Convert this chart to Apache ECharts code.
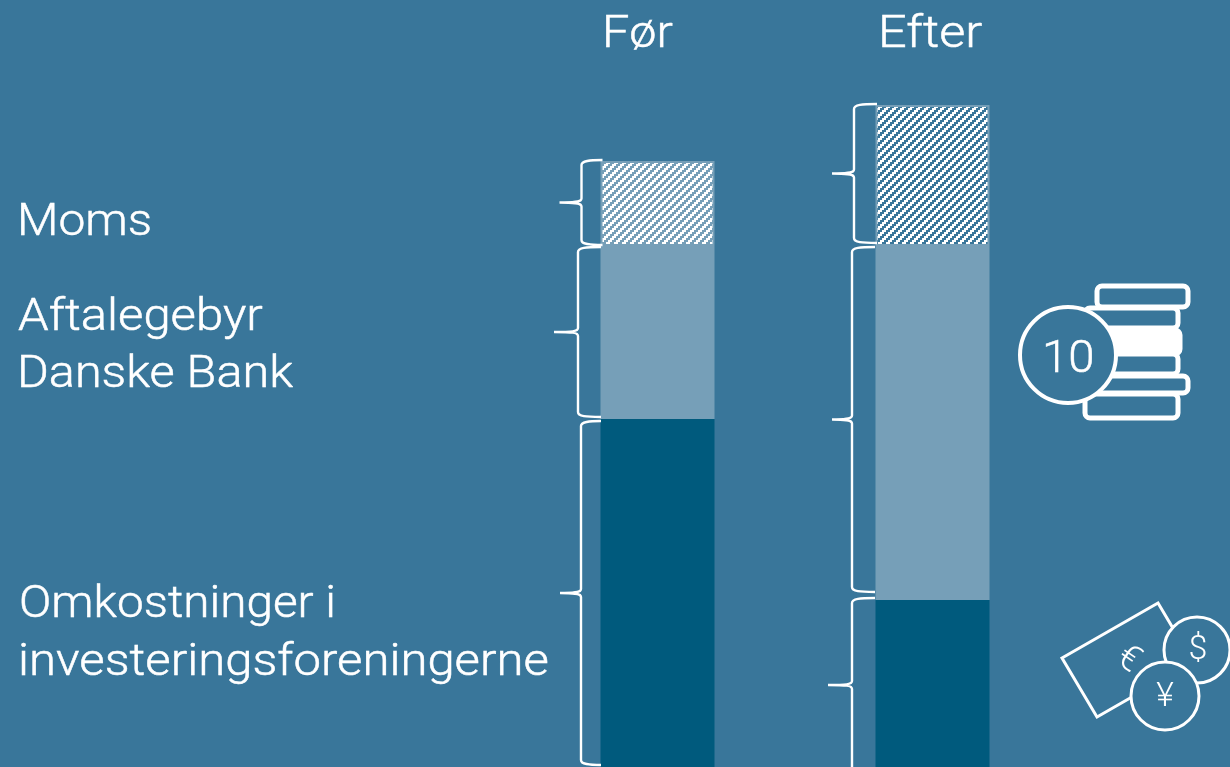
<!DOCTYPE html>
<html>
<head>
<meta charset="utf-8">
<style>html,body{margin:0;padding:0;background:#39769a}#c{width:1230px;height:767px}</style>
<script src="https://cdn.jsdelivr.net/npm/echarts@6/dist/echarts.min.js"></script>
</head>
<body>
<div id="c"></div>
<script>
const categories = ['Før', 'Efter'];
const omkostninger = [348, 167];
const aftalegebyr = [173, 354];
const moms = [85, 141];
const bracketRanges = [
  [0, 607, 522], [0, 520, 350], [0, 346, 2],
  [1, 663, 524], [1, 520, 175], [1, 169, -5]
];
const leftLabels = [
  ['Moms'],
  ['Aftalegebyr', 'Danske Bank'],
  ['Omkostninger i', 'investeringsforeningerne']
];

const BG = '#39769a', DARK = '#005a7d', MID = '#769fb8', WHITE = '#ffffff';
const FONT = 'Roboto';
const bracketOffsets = [
  [-76, -98, -55], [-79.5, -103.5, -56.5], [-76.5, -97.5, -56.5],
  [-78.5, -100.5, -55.5], [-80.5, -100.5, -57.5], [-80.5, -104.5, -57.5]
];

function hatch(cell, steps, ink, gap) {
  const size = cell * steps;
  const cv = document.createElement('canvas');
  cv.width = cv.height = size;
  const g = cv.getContext('2d');
  for (let y = 0; y < size; y++) for (let x = 0; x < size; x++) {
    const k = (Math.floor(x / cell) + Math.floor(y / cell)) % steps;
    g.fillStyle = k < ink ? WHITE : gap;
    g.fillRect(x, y, 1, 1);
  }
  return cv;
}
const hatchColors = [
  { image: hatch(2, 4, 2, MID), repeat: 'repeat' },
  { image: hatch(2, 4, 2, BG), repeat: 'repeat' }
];

function bracketPath(api) {
  const i = api.value(3);
  const [so, to, eo] = bracketOffsets[i];
  const c = api.coord([api.value(0), api.value(1)]);
  const d = api.coord([api.value(0), api.value(2)]);
  const cx = c[0], y0 = c[1], y1 = d[1], ym = (y0 + y1) / 2;
  const s = cx + so, t = cx + to, e = cx + eo;
  const path =
    `M${e} ${y0} C${s + 8} ${y0} ${s} ${y0 + 0.5} ${s} ${y0 + 5} ` +
    `L${s} ${ym - 4} C${s} ${ym - 0.5} ${s - 6} ${ym} ${t} ${ym} ` +
    `C${s - 6} ${ym} ${s} ${ym + 0.5} ${s} ${ym + 4} ` +
    `L${s} ${y1 - 5} C${s} ${y1 - 0.5} ${s + 8} ${y1} ${e} ${y1}`;
  return { type: 'path', shape: { pathData: path },
    style: { fill: null, stroke: WHITE, lineWidth: 2.4 } };
}

const txt = (text, x, baseline, fontSize, scaleX) => ({
  type: 'text', x, y: baseline - fontSize * 0.756, scaleX: scaleX || 1, silent: true,
  style: { text, fill: WHITE, stroke: WHITE, lineWidth: 0.5, font: `300 ${fontSize}px ${FONT}`, verticalAlign: 'top' }
});
const sym = (text, x, y, fontSize, rotation) => ({
  type: 'text', x, y, rotation: rotation || 0, silent: true,
  style: { text, fill: WHITE, font: `300 ${fontSize}px ${FONT}`, align: 'center', verticalAlign: 'middle' }
});
const coinBar = (x0, x1, y0, y1, filled) => ({
  type: 'rect', shape: { x: x0, y: y0, width: x1 - x0, height: y1 - y0, r: 5 },
  style: { fill: filled ? WHITE : BG, stroke: WHITE, lineWidth: 5 }
});
const circle = (cx, cy, r, lw) => ({
  type: 'circle', shape: { cx, cy, r }, style: { fill: BG, stroke: WHITE, lineWidth: lw }
});

const graphics = [
  txt(categories[0], 602, 47, 45, 1.08),
  txt(categories[1], 878, 47, 45, 1.12),
  txt(leftLabels[0][0], 17, 235, 45, 1.064),
  txt(leftLabels[1][0], 18, 330, 45, 1.09),
  txt(leftLabels[1][1], 17, 387, 45, 1.08),
  txt(leftLabels[2][0], 19, 617, 45, 1.06),
  txt(leftLabels[2][1], 18, 675, 45, 1.09),
  coinBar(1085, 1178, 308, 328),
  coinBar(1085, 1180, 330, 354, true),
  coinBar(1085, 1178, 354, 374),
  coinBar(1085, 1178, 394, 418),
  coinBar(1097, 1188, 376, 393),
  coinBar(1097, 1188, 286, 307),
  circle(1068, 355, 48, 4),
  txt('10', 1042, 372, 45, 1.05),
  { type: 'polygon', shape: { points: [[1158, 603], [1062, 658], [1097, 717], [1193, 662]] },
    style: { fill: BG, stroke: WHITE, lineWidth: 3 } },
  circle(1197, 650, 33, 3),
  circle(1165, 696, 34, 3),
  sym('€', 1128, 660, 36, -0.6),
  sym('$', 1198, 650, 34),
  sym('¥', 1165, 697, 34)
];

const chart = echarts.init(document.getElementById('c'), null, { renderer: 'canvas' });
chart.setOption({
  animation: false,
  backgroundColor: BG,
  grid: { left: 520, width: 550, top: 0, bottom: 0 },
  xAxis: { type: 'category', data: categories, show: false },
  yAxis: { type: 'value', min: 0, max: 767, show: false },
  tooltip: { show: false },
  series: [
    { type: 'bar', name: 'Omkostninger i investeringsforeningerne', stack: 's', barWidth: 114, data: omkostninger, itemStyle: { color: DARK } },
    { type: 'bar', name: 'Aftalegebyr Danske Bank', stack: 's', barWidth: 114, data: aftalegebyr, itemStyle: { color: MID } },
    { type: 'bar', name: 'Moms', stack: 's', barWidth: 114,
      data: moms.map((v, i) => ({ value: v, itemStyle: { color: hatchColors[i], borderColor: MID, borderWidth: 2 } })) },
    { type: 'custom', name: 'Klammer', z: 5, silent: true,
      coordinateSystem: 'cartesian2d', clip: false,
      data: bracketRanges.map((r, i) => [r[0], r[1], r[2], i]),
      encode: { x: 0, y: [1, 2] },
      renderItem: (params, api) => bracketPath(api) }
  ],
  graphic: { elements: graphics }
});
</script>
</body>
</html>
